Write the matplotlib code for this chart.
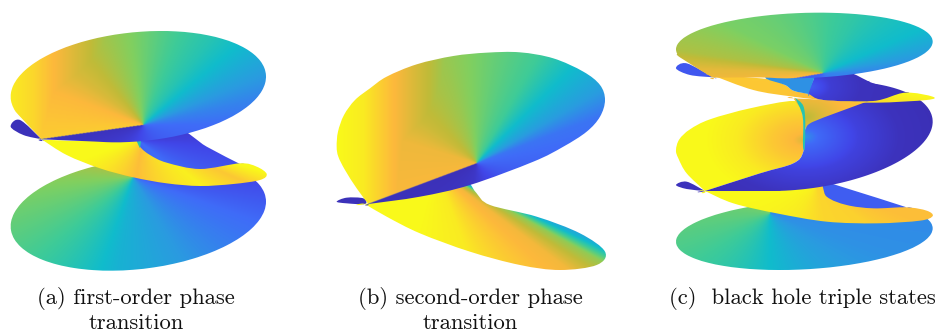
import numpy as np
import matplotlib
matplotlib.use('Agg')
import matplotlib.pyplot as plt
from matplotlib.colors import LinearSegmentedColormap
from matplotlib.path import Path
from matplotlib.patches import PathPatch

# colour scale
scale_pos = [0, .12, .25, .35, .45, .55, .65, .75, .87, 1]
scale_col = ['#3b2db0', '#4146e8', '#3f6cf8', '#2a9be0', '#10bccc',
             '#3ecb98', '#80d060', '#c0bb38', '#fdb83c', '#f9f91a']

# all shapes are read off the 3x crops, a repeated point makes a sharp corner
# tilted discs: xmin, xmax, ymin, ymax, y at the rightmost point
a_top_box = (32, 798, 33, 367, 170)
a_bottom_box = (32, 798, 412, 752, 545)
c_top_box = (48, 818, 38, 235, 125)
c_bottom_box = (48, 818, 600, 810, 685)
c_mid_box = (48, 818, 243, 573, 365)

# panel a
a_tip = (125, 358)
a_back_left = [(32, 320), (60, 300), a_tip, a_tip, (70, 345)]
a_back_right = [(405, 340), (530, 325), (620, 380), (720, 432), (720, 432), (600, 460),
                (500, 440), (430, 400), (400, 365)]
a_band = [a_tip, a_tip, (200, 362), (300, 362), (410, 350), (420, 380), (450, 405),
          (500, 428), (600, 447), (720, 430), (770, 440), (800, 462), (780, 480), (700, 492),
          (600, 498), (500, 490), (400, 472), (300, 445), (200, 405)]
a_core = [(406, 352), (406, 352), (425, 350), (425, 350), (420, 385), (420, 385), (412, 368)]

# panel b
b_back = [(50, 545), (80, 533), (130, 535), (135, 552), (80, 550)]
b_lower = [(135, 552), (135, 552), (450, 490), (450, 490), (470, 520), (510, 555), (650, 590),
           (780, 640), (855, 695), (830, 735), (720, 750), (600, 735), (450, 695), (300, 640),
           (200, 590)]
b_upper = [(145, 552), (145, 552), (110, 505), (75, 450), (55, 410), (50, 380), (54, 335),
           (72, 285), (105, 240), (150, 205), (200, 170), (290, 133), (400, 108), (500, 98),
           (600, 97), (700, 115), (790, 155), (840, 195), (855, 240), (840, 290), (800, 335),
           (730, 380), (640, 425), (450, 495), (300, 530)]

# panel c
c_tip = (135, 573)
c_top_tip = (158, 233)
c_low_sliver = [(48, 555), (80, 545), c_tip, c_tip, (80, 567)]
c_low_blue = [(465, 540), (560, 565), (740, 622), (740, 622), (640, 635), (560, 625), (490, 590)]
c_low_band = [c_tip, c_tip, (300, 565), (465, 540), (500, 590), (560, 615), (640, 625),
              (740, 622), (800, 632), (818, 648), (780, 662), (650, 670), (500, 665),
              (350, 640), (220, 610)]
c_mid_inner = [c_tip, c_tip, (300, 520), (400, 490), (430, 455), (438, 380), (480, 340), (620, 250)]
c_mid_left = [c_tip, c_tip, (80, 520), (55, 475), (48, 450), (58, 418), (90, 388), (150, 358),
              (270, 325), (400, 303), (425, 330), (432, 400), (430, 455), (400, 490), (300, 520)]
c_throat = [(400, 295), (400, 295), (620, 305), (620, 305), (460, 365), (437, 385), (430, 340)]
c_stripe = [(405, 293), (405, 293), (430, 318), (436, 370), (434, 450), (434, 450), (429, 440),
            (428, 350)]
c_up_sliver = [(48, 205), (80, 190), (160, 232), (160, 232), (90, 225)]
c_up_back = [(470, 215), (560, 215), (640, 250), (735, 278), (735, 278), (640, 303), (490, 300),
             (445, 282), (460, 240)]
c_up_blue = [(320, 225), (320, 225), (470, 215), (470, 215), (445, 282), (445, 282), (400, 272),
             (375, 255), (320, 237)]
c_up_band = [(155, 225), (155, 225), (320, 237), (375, 255), (400, 272), (445, 282), (490, 300),
             (640, 303), (735, 278), (818, 290), (800, 300), (650, 308), (520, 303), (400, 290),
             (280, 270)]

# angle (deg) -> colour position around a centre, in crop coordinates
a_top_fan = ((430, 315), [-172, -100, -20, 0, 13, 24, 40, 52, 75, 98, 120, 144, 160, 175, 187.9],
             [.03, .13, .22, .25, .3, .36, .45, .5, .57, .65, .72, .8, .87, .89, .91])
a_bottom_fan = ((400, 470), [-178, -140, -100, -60, -20, 0, 20, 130, 150, 175],
                [.66, .55, .42, .35, .25, .12, .05, .82, .75, .68])
a_band_fan = ((430, 350), [-160, -100, -40, -24, -16, 0],
              [1, .88, .98, .9, 1, 1])
a_back_fan = ((415, 360), [-40, 0, 30, 60], [.25, .1, .03, .03])
b_upper_fan = ((470, 430), [-159.4, -100, -40, -10, 21, 31, 45, 60, 84, 107, 142, 163, 183, 200.5],
               [.02, .05, .14, .2, .27, .36, .45, .55, .62, .69, .77, .84, .85, .86])
b_lower_fan = ((350, 450), [-170, -110, -70, -50, -37, -29, -25, -20, 100],
               [1, 1, .97, .9, .85, .68, .42, .28, .28])
c_bottom_fan = ((330, 640), [-175, -130, -90, -50, -20, 20, 120, 150],
                [.6, .52, .45, .38, .33, .3, .68, .64])
c_top_fan = ((490, 220), [-170, -90, 0, 8, 24, 60, 106, 153, 171, 178, 189.9],
             [.2, .25, .3, .34, .45, .52, .58, .64, .72, .82, .88])
c_low_fan = ((470, 550), [-170, -120, -80, -40, -20, -10, 0],
             [1, .97, .93, .92, .88, .88, .88])
c_up_fan = ((430, 250), [-170, -100, -60, -30, -12, -5, 0, 180],
            [.9, .88, .88, .88, .95, 1, 1, .9])

# x -> lowest colour position on the warm side, the yellow rim of the big sheets
a_top_rim = ([32, 100, 170, 300, 400], [.97, .93, .86, .72, .6])
b_upper_rim = ([50, 130, 230, 350, 450], [1, .97, .86, .72, .6])

# distance from a centre -> colour position
c_right_rad = ((435, 410), [0, 40, 160, 280, 420], [.33, .24, .1, .03, .01])
c_left_rad = ((430, 420), [0, 30, 90, 200, 300], [.8, .87, .9, .97, 1])
c_throat_rad = ((440, 350), [0, 40, 120, 200], [.74, .8, .87, .9])
c_back_rad = ((450, 260), [0, 60, 150, 300], [.2, .08, .03, .02])

caption_a = ['(a) first-order phase', 'transition']
caption_b = ['(b) second-order phase', 'transition']
caption_c = '(c)  black hole triple states'

cmap = LinearSegmentedColormap.from_list('surf', list(zip(scale_pos, scale_col)))


def arc(box, t0, t1, n=40):
    # part of a tilted disc rim, t runs clockwise on screen from the rightmost point
    xmin, xmax, ymin, ymax, yright = box
    cx, cy = (xmin + xmax) / 2, (ymin + ymax) / 2
    w, h = (xmax - xmin) / 2, (ymax - ymin) / 2
    phi = np.arccos((yright - cy) / h)
    t = np.radians(np.linspace(t0, t1, n))
    return list(zip(cx + w * np.cos(t), cy + h * np.cos(t - phi)))


def outline_path(points, offset):
    # closed Catmull-Rom through the crop points, converted to picture pixels
    p = np.array(points, dtype=float) / 3 + offset
    n = len(p)
    verts = [p[0]]
    codes = [Path.MOVETO]
    for i in range(n):
        p0, p1, p2, p3 = p[i - 1], p[i], p[(i + 1) % n], p[(i + 2) % n]
        verts += [p1 + (p2 - p0) / 6, p2 - (p3 - p1) / 6, p2]
        codes += [Path.CURVE4] * 3
    return Path(verts, codes)


def paint(ax, points, offset, field):
    path = outline_path(points, offset)
    ext = path.get_extents()
    x0, x1, y0, y1 = np.floor(ext.x0) - 1, np.ceil(ext.x1) + 1, np.floor(ext.y0) - 1, np.ceil(ext.y1) + 1
    xs = np.linspace(x0, x1, int(x1 - x0) * 2)
    ys = np.linspace(y0, y1, int(y1 - y0) * 2)
    xx, yy = np.meshgrid(xs, ys)
    im = ax.imshow(field(xx, yy), extent=(x0, x1, y1, y0), cmap=cmap, vmin=0, vmax=1,
                   origin='upper', aspect='auto', interpolation='bilinear')
    patch = PathPatch(path, transform=ax.transData, fc='none', ec='none')
    ax.add_patch(patch)
    im.set_clip_path(patch)


def fan(spec, offset, rim=None):
    centre, angles, vals = spec
    cx, cy = np.array(centre) / 3 + offset

    def field(x, y):
        th = np.degrees(np.arctan2(cy - y, x - cx))
        v = np.interp(th, angles, vals, period=360)
        if rim is not None:
            warm = np.maximum(v, np.interp((x - offset[0]) * 3, rim[0], rim[1]))
            v = np.where(v > .6, warm, v)
        return v
    return field


def radial(spec, offset):
    centre, radii, vals = spec
    cx, cy = np.array(centre) / 3 + offset

    def field(x, y):
        return np.interp(np.hypot(x - cx, (y - cy) * 1.6) * 3, radii, vals)
    return field


def flat(val):
    return lambda x, y: np.full(x.shape, val)


fig = plt.figure(figsize=(9.38, 3.33), dpi=100)
ax = fig.add_axes([0, 0, 1, 1])

off_a = np.array([0, 20])
paint(ax, a_back_left, off_a, flat(.02))
paint(ax, arc(a_bottom_box, 0, 360)[:-1], off_a, fan(a_bottom_fan, off_a))
paint(ax, a_back_right, off_a, fan(a_back_fan, off_a))
paint(ax, a_band, off_a, fan(a_band_fan, off_a))
paint(ax, a_core, off_a, flat(.5))
paint(ax, arc(a_top_box, 160, 470) + [a_tip, a_tip], off_a, fan(a_top_fan, off_a, a_top_rim))

off_b = np.array([320, 20])
paint(ax, b_back, off_b, flat(.02))
paint(ax, b_lower, off_b, fan(b_lower_fan, off_b))
paint(ax, b_upper, off_b, fan(b_upper_fan, off_b, b_upper_rim))

off_c = np.array([660, 0])
paint(ax, arc(c_bottom_box, 0, 360)[:-1], off_c, fan(c_bottom_fan, off_c))
paint(ax, c_low_sliver, off_c, flat(.03))
paint(ax, c_low_blue, off_c, flat(.2))
paint(ax, c_low_band, off_c, fan(c_low_fan, off_c))
paint(ax, c_mid_left, off_c, radial(c_left_rad, off_c))
paint(ax, arc(c_mid_box, -61, 105) + c_mid_inner, off_c, radial(c_right_rad, off_c))
paint(ax, c_throat, off_c, radial(c_throat_rad, off_c))
paint(ax, c_stripe, off_c, flat(.5))
paint(ax, c_up_sliver, off_c, flat(.18))
paint(ax, c_up_back, off_c, radial(c_back_rad, off_c))
paint(ax, c_up_band, off_c, fan(c_up_fan, off_c))
paint(ax, c_up_blue, off_c, flat(.33))
paint(ax, arc(c_top_box, 165, 470) + [c_top_tip, c_top_tip], off_c, fan(c_top_fan, off_c))

ax.set_xlim(0, 938)
ax.set_ylim(333, 0)
ax.axis('off')

font = dict(family='cmr10', fontsize=16.3, color='#111111', ha='center', va='center')
ax.text(136, 298, caption_a[0], **font)
ax.text(136, 323, caption_a[1], **font)
ax.text(470, 298, caption_b[0], **font)
ax.text(470, 323, caption_b[1], **font)
ax.text(802, 298, caption_c, **font)

fig.savefig('out.png', dpi=100)
